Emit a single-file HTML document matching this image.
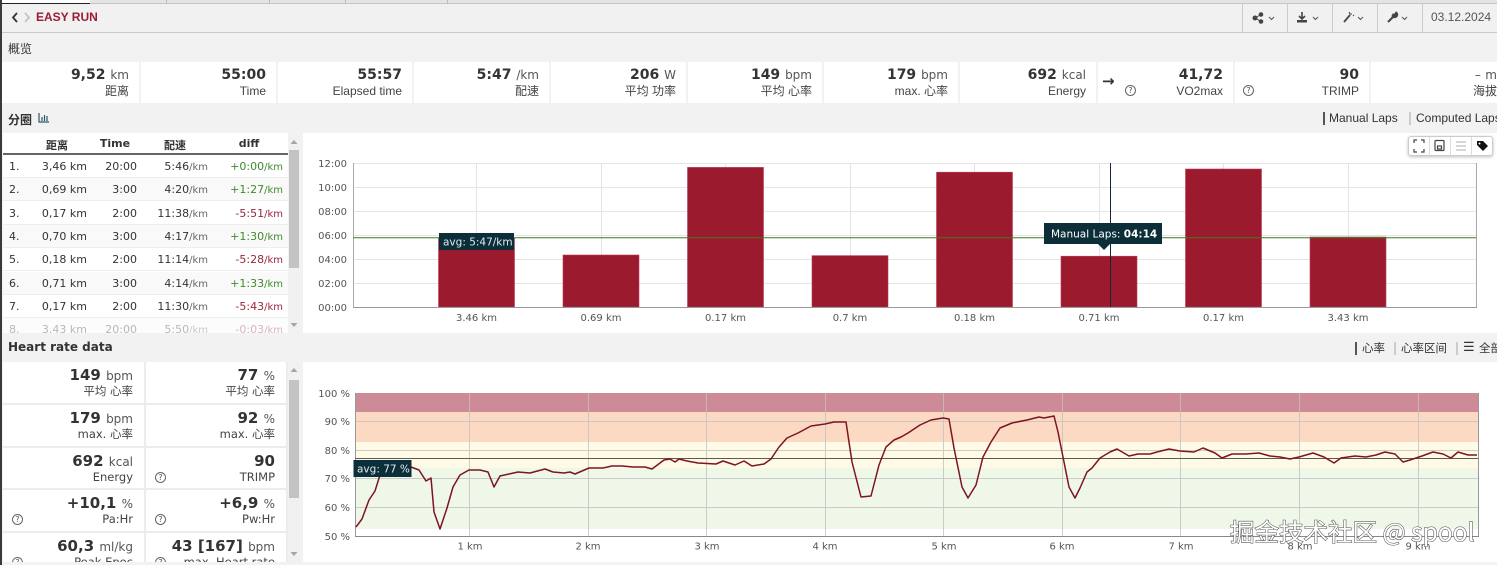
<!DOCTYPE html>
<html><head><meta charset="utf-8">
<style>
*{margin:0;padding:0;box-sizing:border-box}
body{width:1497px;height:565px;overflow:hidden;background:#f2f2f2;position:relative;font-family:"DejaVu Sans","Noto Sans CJK SC",sans-serif;color:#333}
.a{position:absolute}
.cell{position:absolute;top:62px;height:41px;background:#fff}
.cell .v{position:absolute;right:10px;top:4px;white-space:nowrap;font-size:14px;font-weight:bold;color:#333;line-height:18px}
.cell .v span{font-weight:normal;font-size:12px;color:#555}
.cell .l{position:absolute;right:10px;top:22px;white-space:nowrap;font-family:"Liberation Sans","Noto Sans CJK SC",sans-serif;font-size:12px;color:#444;line-height:14px}
.q{position:absolute;width:11px;height:11px;border:1px solid #666;border-radius:50%;font-size:8px;line-height:9px;text-align:center;color:#555;font-family:"DejaVu Sans",sans-serif}
.sec{position:absolute;left:8px;font-weight:bold;font-size:12px;color:#333;font-family:"DejaVu Sans","Noto Sans CJK SC",sans-serif}
.lnk{position:absolute;font-family:"Liberation Sans","Noto Sans CJK SC",sans-serif;font-size:12px;color:#333;white-space:nowrap}
.bar{position:absolute;width:2px;height:13px}
.tbl{position:absolute;left:3px;top:133px;width:285px;height:200px;background:#fff;overflow:hidden;font-size:11px}
.th{position:absolute;top:4px;font-weight:bold;font-size:11px;color:#333;transform:translateX(-50%);white-space:nowrap}
.row{position:absolute;left:0;width:285px;height:23px;border-bottom:1px solid #eee}
.row span{position:absolute;top:5px;white-space:nowrap;line-height:13px}
.row small{font-size:10px;color:#666}
.g{color:#3f8a2a}.r{color:#9a2540}
.g small{color:#3f8a2a}.r small{color:#9a2540}
.hs{position:absolute;left:3px;top:362px;width:285px;height:200px;background:#ececec;overflow:hidden}
.hc{position:absolute;background:#fff}
.hc .v{position:absolute;right:11px;top:4px;white-space:nowrap;font-size:15px;font-weight:bold;color:#333;line-height:18px}
.hc .v span{font-size:12px;font-weight:normal;color:#555}
.hc .l{position:absolute;right:11px;top:22px;white-space:nowrap;font-size:11.5px;color:#444;line-height:14px}
</style></head><body>

<!-- top tab strip -->
<div class="a" style="left:0;top:0;width:1497px;height:4px;background:#e4e4e4;border-bottom:1px solid #c6c6c6"></div>
<div class="a" style="left:2px;top:0;width:88px;height:4px;background:#fff;border-bottom:1px solid #222"></div>
<div class="a" style="left:166px;top:0;width:1px;height:4px;background:#bbb"></div>
<div class="a" style="left:269px;top:0;width:1px;height:4px;background:#bbb"></div>
<div class="a" style="left:345px;top:0;width:1px;height:4px;background:#bbb"></div>
<div class="a" style="left:447px;top:0;width:1px;height:4px;background:#bbb"></div>

<!-- header -->
<div class="a" style="left:0;top:4px;width:1497px;height:29px;background:#f1f1f1;border-bottom:1px solid #c9c9c9"></div>
<div class="a" style="left:36px;top:10px;font-family:'Liberation Sans',sans-serif;font-weight:bold;font-size:12px;color:#9b1c35">EASY RUN</div>
<div class="a" style="left:1431px;top:10px;font-family:'Liberation Sans',sans-serif;font-size:12px;color:#555">03.12.2024</div>

<!-- left dark border -->
<div class="a" style="left:0;top:0;width:2px;height:565px;background:#3a3a3a"></div>

<!-- overview -->
<div class="sec" style="top:40px;font-weight:normal;font-family:'Noto Sans CJK SC',sans-serif">概览</div>

<div class="cell" style="left:2px;width:137px"><div class="v">9,52 <span>km</span></div><div class="l">距离</div></div>
<div class="cell" style="left:141px;width:135px"><div class="v">55:00</div><div class="l">Time</div></div>
<div class="cell" style="left:278px;width:134px"><div class="v">55:57</div><div class="l">Elapsed time</div></div>
<div class="cell" style="left:414px;width:135px"><div class="v">5:47 <span>/km</span></div><div class="l">配速</div></div>
<div class="cell" style="left:551px;width:135px"><div class="v">206 <span>W</span></div><div class="l">平均 功率</div></div>
<div class="cell" style="left:688px;width:134px"><div class="v">149 <span>bpm</span></div><div class="l">平均 心率</div></div>
<div class="cell" style="left:824px;width:134px"><div class="v">179 <span>bpm</span></div><div class="l">max. 心率</div></div>
<div class="cell" style="left:960px;width:136px"><div class="v">692 <span>kcal</span></div><div class="l">Energy</div></div>
<div class="cell" style="left:1098px;width:135px"><div class="a" style="left:4px;top:10px;font-size:15px;font-weight:bold;color:#333">→</div><div class="q" style="left:27px;top:23px">?</div><div class="v">41,72</div><div class="l">VO2max</div></div>
<div class="cell" style="left:1235px;width:134px"><div class="q" style="left:8px;top:23px">?</div><div class="v">90</div><div class="l">TRIMP</div></div>
<div class="cell" style="left:1371px;width:136px"><div class="v" style="font-weight:normal"><span>–</span> <span>m</span></div><div class="l">海拔</div></div>

<!-- laps header -->
<div class="sec" style="top:111px;font-family:'Noto Sans CJK SC',sans-serif">分圈</div>
<div class="bar" style="left:1323px;top:112px;background:#555"></div>
<div class="lnk" style="left:1329px;top:111px">Manual Laps</div>
<div class="bar" style="left:1409px;top:112px;background:#ccc"></div>
<div class="lnk" style="left:1416px;top:111px">Computed Laps</div>

<!-- laps table -->
<div class="tbl">
  <div class="th" style="left:54px;font-family:'Noto Sans CJK SC',sans-serif">距离</div>
  <div class="th" style="left:112px">Time</div>
  <div class="th" style="left:172px;font-family:'Noto Sans CJK SC',sans-serif">配速</div>
  <div class="th" style="left:246px">diff</div>
  <div class="a" style="left:0;top:20px;width:285px;height:2px;background:#666"></div>

  <div class="row" style="top:22px;background:#fff"><span style="left:6px">1.</span><span style="right:201px">3,46 km</span><span style="right:151px">20:00</span><span style="right:80px">5:46<small>/km</small></span><span class="g" style="right:5px">+0:00<small>/km</small></span></div>
  <div class="row" style="top:45.3px;background:#f9f9f9"><span style="left:6px">2.</span><span style="right:201px">0,69 km</span><span style="right:151px">3:00</span><span style="right:80px">4:20<small>/km</small></span><span class="g" style="right:5px">+1:27<small>/km</small></span></div>
  <div class="row" style="top:68.6px;background:#fff"><span style="left:6px">3.</span><span style="right:201px">0,17 km</span><span style="right:151px">2:00</span><span style="right:80px">11:38<small>/km</small></span><span class="r" style="right:5px">-5:51<small>/km</small></span></div>
  <div class="row" style="top:91.9px;background:#f9f9f9"><span style="left:6px">4.</span><span style="right:201px">0,70 km</span><span style="right:151px">3:00</span><span style="right:80px">4:17<small>/km</small></span><span class="g" style="right:5px">+1:30<small>/km</small></span></div>
  <div class="row" style="top:115.2px;background:#fff"><span style="left:6px">5.</span><span style="right:201px">0,18 km</span><span style="right:151px">2:00</span><span style="right:80px">11:14<small>/km</small></span><span class="r" style="right:5px">-5:28<small>/km</small></span></div>
  <div class="row" style="top:138.5px;background:#f9f9f9"><span style="left:6px">6.</span><span style="right:201px">0,71 km</span><span style="right:151px">3:00</span><span style="right:80px">4:14<small>/km</small></span><span class="g" style="right:5px">+1:33<small>/km</small></span></div>
  <div class="row" style="top:161.8px;background:#fff"><span style="left:6px">7.</span><span style="right:201px">0,17 km</span><span style="right:151px">2:00</span><span style="right:80px">11:30<small>/km</small></span><span class="r" style="right:5px">-5:43<small>/km</small></span></div>
  <div class="row" style="top:185.1px;background:#f9f9f9;opacity:.35"><span style="left:6px">8.</span><span style="right:201px">3,43 km</span><span style="right:151px">20:00</span><span style="right:80px">5:50<small>/km</small></span><span class="r" style="right:5px">-0:03<small>/km</small></span></div>
</div>
<!-- laps scrollbar -->
<div class="a" style="left:288px;top:133px;width:12px;height:200px;background:#f1f1f1"></div>
<div class="a" style="left:289px;top:150px;width:10px;height:118px;background:#c3c3c3"></div>

<!-- bar chart panel -->
<div class="a" style="left:303px;top:133px;width:1194px;height:200px;background:#fff"></div>
<!-- chart toolbar -->
<div class="a" style="left:1408px;top:136px;width:85px;height:20px;background:#fff;border:1px solid #ccc;border-radius:3px;box-shadow:0 1px 3px rgba(0,0,0,.25)"></div>

<!-- HR header -->
<div class="sec" style="top:340px">Heart rate data</div>
<div class="bar" style="left:1355px;top:342px;background:#555"></div>
<div class="lnk" style="left:1362px;top:340px;font-size:11.5px">心率</div>
<div class="bar" style="left:1394px;top:342px;background:#ccc"></div>
<div class="lnk" style="left:1401px;top:340px;font-size:11.5px">心率区间</div>
<div class="bar" style="left:1456px;top:342px;background:#ccc"></div>
<div class="lnk" style="left:1463px;top:339px;font-size:13px">☰</div>
<div class="lnk" style="left:1479px;top:340px;font-size:11.5px">全部</div>

<!-- HR stats -->
<div class="hs">
  <div class="hc" style="left:0;top:0;width:141px;height:41px"><div class="v">149 <span>bpm</span></div><div class="l">平均 心率</div></div>
  <div class="hc" style="left:143px;top:0;width:140px;height:41px"><div class="v">77 <span>%</span></div><div class="l">平均 心率</div></div>
  <div class="hc" style="left:0;top:43px;width:141px;height:41px"><div class="v">179 <span>bpm</span></div><div class="l">max. 心率</div></div>
  <div class="hc" style="left:143px;top:43px;width:140px;height:41px"><div class="v">92 <span>%</span></div><div class="l">max. 心率</div></div>
  <div class="hc" style="left:0;top:86px;width:141px;height:40px"><div class="v">692 <span>kcal</span></div><div class="l">Energy</div></div>
  <div class="hc" style="left:143px;top:86px;width:140px;height:40px"><div class="q" style="left:9px;top:24px">?</div><div class="v">90</div><div class="l">TRIMP</div></div>
  <div class="hc" style="left:0;top:128px;width:141px;height:41px"><div class="q" style="left:9px;top:24px">?</div><div class="v">+10,1 <span>%</span></div><div class="l">Pa:Hr</div></div>
  <div class="hc" style="left:143px;top:128px;width:140px;height:41px"><div class="q" style="left:9px;top:24px">?</div><div class="v">+6,9 <span>%</span></div><div class="l">Pw:Hr</div></div>
  <div class="hc" style="left:0;top:171px;width:141px;height:40px"><div class="q" style="left:9px;top:24px">?</div><div class="v">60,3 <span>ml/kg</span></div><div class="l">Peak Epoc</div></div>
  <div class="hc" style="left:143px;top:171px;width:140px;height:40px"><div class="q" style="left:9px;top:24px">?</div><div class="v">43 [167] <span>bpm</span></div><div class="l">max. Heart rate</div></div>
</div>
<div class="a" style="left:288px;top:362px;width:12px;height:200px;background:#f1f1f1"></div>
<div class="a" style="left:289px;top:380px;width:10px;height:118px;background:#c3c3c3"></div>

<!-- HR chart panel -->
<div class="a" style="left:303px;top:362px;width:1194px;height:200px;background:#fff"></div>

<svg class="a" style="left:0;top:0" width="1497" height="565" viewBox="0 0 1497 565" xmlns="http://www.w3.org/2000/svg">
  <!-- header icons -->
  <polyline points="17,13 13,17.5 17,22" fill="none" stroke="#333" stroke-width="1.8"/>
  <polyline points="25,13 29,17.5 25,22" fill="none" stroke="#c4c4c4" stroke-width="1.8"/>
  <g stroke="#ccc" stroke-width="1">
    <line x1="1242.5" y1="4" x2="1242.5" y2="32"/>
    <line x1="1287.5" y1="4" x2="1287.5" y2="32"/>
    <line x1="1332.5" y1="4" x2="1332.5" y2="32"/>
    <line x1="1377.5" y1="4" x2="1377.5" y2="32"/>
    <line x1="1422.5" y1="4" x2="1422.5" y2="32"/>
  </g>
  <g fill="#444" stroke="#444">
    <circle cx="1255" cy="18" r="2"/><circle cx="1261" cy="14.5" r="1.8"/><circle cx="1261" cy="21.5" r="1.8"/>
    <line x1="1255" y1="18" x2="1261" y2="14.5" stroke-width="1"/><line x1="1255" y1="18" x2="1261" y2="21.5" stroke-width="1"/>
    <path d="M1302 12 v6 M1299 16 l3 3 l3 -3" fill="none" stroke-width="1.6"/>
    <rect x="1297" y="20" width="10" height="2.5" stroke="none"/>
    <path d="M1344 22 l6 -7" stroke-width="1.8"/><path d="M1349 12 l1 2 l2 0 M1353 15 l1 1" stroke-width="1" fill="none"/>
    <path d="M1388 22 l5 -5" stroke-width="2"/><path d="M1392 16 a3 3 0 1 0 4 -4 l-1 2 l-2 0 z" stroke-width="1"/>
  </g>
  <g fill="none" stroke="#555" stroke-width="1">
    <polyline points="1269,17 1271.5,19.5 1274,17"/>
    <polyline points="1313,17 1315.5,19.5 1318,17"/>
    <polyline points="1358,17 1360.5,19.5 1363,17"/>
    <polyline points="1402,17 1404.5,19.5 1407,17"/>
  </g>

  <!-- laps chart icon -->
  <g stroke="#2d5866" stroke-width="1.2" fill="none">
    <polyline points="39,113 39,122 49,122"/>
    <line x1="42" y1="121" x2="42" y2="117"/><line x1="44.5" y1="121" x2="44.5" y2="115"/><line x1="47" y1="121" x2="47" y2="116"/>
  </g>

  <!-- scroll arrows -->
  <g fill="#a5a5a5">
    <polygon points="290.5,144 294,140 297.5,144"/>
    <polygon points="290.5,323 294,327 297.5,323"/>
    <polygon points="290.5,372 294,368 297.5,372"/>
    <polygon points="290.5,552 294,556 297.5,552"/>
  </g>

  <!-- toolbar icons -->
  <g stroke="#ddd"><line x1="1429.5" y1="137" x2="1429.5" y2="155"/><line x1="1450.5" y1="137" x2="1450.5" y2="155"/><line x1="1471.5" y1="137" x2="1471.5" y2="155"/></g>
  <g fill="none" stroke="#444" stroke-width="1.2">
    <path d="M1414 143 v-3 h3 M1421 140 h3 v3 M1424 149 v3 h-3 M1417 152 h-3 v-3"/>
    <rect x="1435" y="140.5" width="9" height="10" rx="1"/><rect x="1437.5" y="146" width="4" height="3"/>
  </g>
  <g stroke="#bbb" stroke-width="1.2"><line x1="1456" y1="142" x2="1466" y2="142"/><line x1="1456" y1="146" x2="1466" y2="146"/><line x1="1456" y1="150" x2="1466" y2="150"/></g>
  <path d="M1477 141 h6 l5 5 l-5 5 l-6 -6 z" fill="#111"/>
  <circle cx="1479.5" cy="143.5" r="1" fill="#fff"/>

  <!-- ===== BAR CHART ===== -->
  <g stroke="#e4e4e4" stroke-width="1">
    <line x1="353" y1="163.5" x2="1476" y2="163.5"/>
    <line x1="353" y1="187.5" x2="1476" y2="187.5"/>
    <line x1="353" y1="211.5" x2="1476" y2="211.5"/>
    <line x1="353" y1="235.5" x2="1476" y2="235.5"/>
    <line x1="353" y1="259.5" x2="1476" y2="259.5"/>
    <line x1="353" y1="283.5" x2="1476" y2="283.5"/>
    <line x1="476.5" y1="163" x2="476.5" y2="307"/>
    <line x1="601.5" y1="163" x2="601.5" y2="307"/>
    <line x1="725.5" y1="163" x2="725.5" y2="307"/>
    <line x1="850.5" y1="163" x2="850.5" y2="307"/>
    <line x1="974.5" y1="163" x2="974.5" y2="307"/>
    <line x1="1099.5" y1="163" x2="1099.5" y2="307"/>
    <line x1="1223.5" y1="163" x2="1223.5" y2="307"/>
    <line x1="1348.5" y1="163" x2="1348.5" y2="307"/>
  </g>
  <g fill="#9c1a2e" stroke="#b9405a" stroke-width="0.6">
    <rect x="438.5" y="237.8" width="76" height="69.2"/>
    <rect x="563" y="255" width="76" height="52"/>
    <rect x="687.5" y="167.4" width="76" height="139.6"/>
    <rect x="812" y="255.6" width="76" height="51.4"/>
    <rect x="936.5" y="172.2" width="76" height="134.8"/>
    <rect x="1061" y="256.2" width="76" height="50.8"/>
    <rect x="1185.5" y="169" width="76" height="138"/>
    <rect x="1310" y="237" width="76" height="70"/>
  </g>
  <line x1="353.5" y1="163" x2="353.5" y2="307" stroke="#aaa"/>
  <line x1="1476.5" y1="163" x2="1476.5" y2="307" stroke="#aaa"/>
  <line x1="353" y1="307.5" x2="1477" y2="307.5" stroke="#999"/>
  <line x1="353" y1="237.8" x2="1476" y2="237.8" stroke="#3e7a1e" stroke-width="1"/>
  <line x1="1110.5" y1="163" x2="1110.5" y2="307" stroke="#16263a" stroke-width="1"/>
  <rect x="439" y="233" width="75" height="17" fill="#0b2e38"/>
  <text x="443" y="245.5" font-family="DejaVu Sans" font-size="10.5" fill="#dcecf2">avg: 5:47/km</text>
  <rect x="1044" y="223" width="118" height="21" fill="#0b2e38"/>
  <polygon points="1098,244 1110,244 1104,250" fill="#0b2e38"/>
  <text x="1051" y="237.5" font-family="DejaVu Sans" font-size="10.5" fill="#fff">Manual Laps: <tspan font-weight="bold">04:14</tspan></text>
  <g font-family="DejaVu Sans" font-size="10" fill="#555" text-anchor="end">
    <text x="347" y="167">12:00</text><text x="347" y="191">10:00</text><text x="347" y="215">08:00</text>
    <text x="347" y="239">06:00</text><text x="347" y="263">04:00</text><text x="347" y="287">02:00</text><text x="347" y="311">00:00</text>
  </g>
  <g font-family="DejaVu Sans" font-size="10" fill="#555" text-anchor="middle">
    <text x="476.5" y="321">3.46 km</text><text x="601" y="321">0.69 km</text><text x="725.5" y="321">0.17 km</text>
    <text x="850" y="321">0.7 km</text><text x="974.5" y="321">0.18 km</text><text x="1099" y="321">0.71 km</text>
    <text x="1223.5" y="321">0.17 km</text><text x="1348" y="321">3.43 km</text>
  </g>

  <!-- ===== HR CHART ===== -->
  <rect x="355" y="393" width="1123" height="19" fill="#cc8b97"/>
  <rect x="355" y="412" width="1123" height="30" fill="#fbd9c2"/>
  <rect x="355" y="442" width="1123" height="26" fill="#fefae5"/>
  <rect x="355" y="468" width="1123" height="61" fill="#eff8e8"/>
  <g stroke="#c2c2c2" stroke-width="1" opacity="0.8">
    <line x1="355" y1="421.5" x2="1478" y2="421.5"/>
    <line x1="355" y1="450.5" x2="1478" y2="450.5"/>
    <line x1="355" y1="478.5" x2="1478" y2="478.5"/>
    <line x1="355" y1="507.5" x2="1478" y2="507.5"/>
    <line x1="469.5" y1="393" x2="469.5" y2="536"/>
    <line x1="588.5" y1="393" x2="588.5" y2="536"/>
    <line x1="706.5" y1="393" x2="706.5" y2="536"/>
    <line x1="825.5" y1="393" x2="825.5" y2="536"/>
    <line x1="943.5" y1="393" x2="943.5" y2="536"/>
    <line x1="1062.5" y1="393" x2="1062.5" y2="536"/>
    <line x1="1180.5" y1="393" x2="1180.5" y2="536"/>
    <line x1="1299.5" y1="393" x2="1299.5" y2="536"/>
    <line x1="1418.5" y1="393" x2="1418.5" y2="536"/>
  </g>
  <line x1="355.5" y1="393" x2="355.5" y2="536" stroke="#999"/>
  <line x1="1478.5" y1="393" x2="1478.5" y2="536" stroke="#999"/>
  <line x1="355" y1="536.5" x2="1479" y2="536.5" stroke="#888"/>
  <line x1="355" y1="458.5" x2="1478" y2="458.5" stroke="#5a5a5a" stroke-width="1"/>
  <polyline fill="none" stroke="#7d1424" stroke-width="1.5" stroke-linejoin="round" points="356,527 362,519 369,500 375,491 380,475 386,468 395,464 405,465 411,467 419,470 426,481 431,478 434,512 440,529 447,508 453,487 460,475 469,470 480,470 488,472 494,487 500,476 509,474 518,472 530,473 545,469 553,472 564,473 570,472 575,474 589,468 603,468 612,466 622,466 633,467 645,467 652,469 664,460 670,459 675,462 679,459 687,461 698,463 716,464 723,461 735,465 744,461 752,466 764,464 771,459 779,447 787,438 798,433 811,426 825,424 834,422 846,422 852,462 861,497 871,496 879,465 886,447 894,440 901,437 908,433 920,425 931,420 943,418 949,419 954,448 962,487 968,498 976,485 983,457 991,442 1000,428 1012,423 1027,420 1039,417 1044,418 1049,417 1054,416 1058,432 1064,462 1069,487 1075,498 1080,488 1087,472 1092,468 1100,458 1110,452 1117,449 1129,456 1138,454 1150,454 1157,452 1169,449 1180,451 1194,452 1203,448 1215,453 1222,458 1232,454 1246,454 1259,453 1270,456 1280,457 1290,459 1299,457 1313,453 1324,457 1334,463 1341,458 1355,456 1366,457 1376,455 1385,452 1395,454 1403,462 1410,460 1422,456 1433,452 1443,454 1451,458 1458,452 1468,455 1477,455"/>
  <rect x="353.5" y="460" width="58" height="17" fill="#0b2e38"/>
  <text x="357" y="472.5" font-family="DejaVu Sans" font-size="10.5" fill="#dcecf2">avg: 77 %</text>
  <g font-family="DejaVu Sans" font-size="10" fill="#555" text-anchor="end">
    <text x="350" y="397">100 %</text><text x="350" y="425">90 %</text><text x="350" y="454">80 %</text>
    <text x="350" y="482">70 %</text><text x="350" y="511">60 %</text><text x="350" y="540">50 %</text>
  </g>
  <g font-family="DejaVu Sans" font-size="10" fill="#555" text-anchor="middle">
    <text x="470" y="549.5">1 km</text><text x="588" y="549.5">2 km</text><text x="707" y="549.5">3 km</text>
    <text x="825" y="549.5">4 km</text><text x="944" y="549.5">5 km</text><text x="1062" y="549.5">6 km</text>
    <text x="1181" y="549.5">7 km</text><text x="1300" y="549.5">8 km</text><text x="1418" y="549.5">9 km</text>
  </g>

  <!-- watermark -->
  <text x="1230" y="541" font-family="Noto Sans CJK SC, sans-serif" font-size="24.5" fill="#fff" stroke="#555" stroke-width="1.1" paint-order="stroke">掘金技术社区 @ spool</text>
</svg>
</body></html>
